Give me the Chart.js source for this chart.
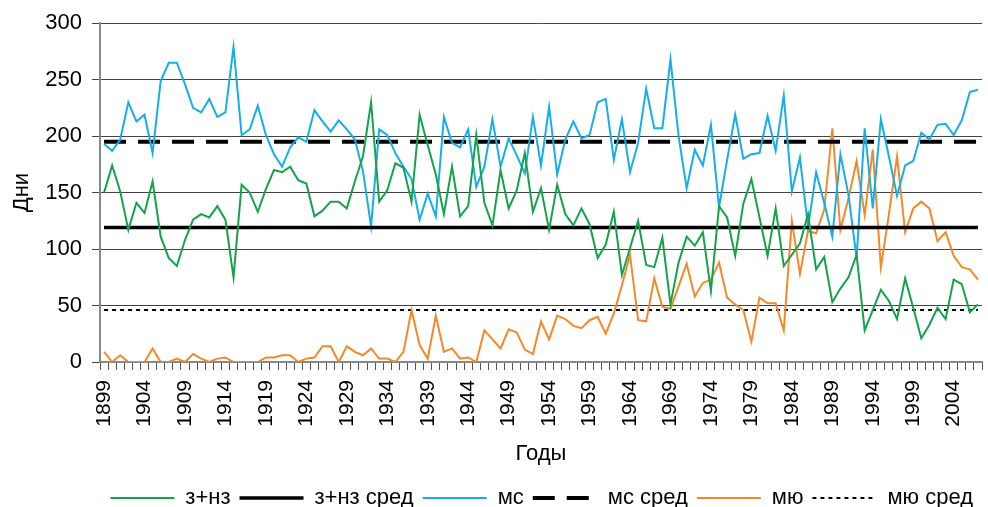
<!DOCTYPE html>
<html>
<head>
<meta charset="utf-8">
<script src="https://cdn.jsdelivr.net/npm/chart.js@4.4.1/dist/chart.umd.min.js"></script>
<style>
  html, body { margin: 0; padding: 0; background: #fff; }
  #wrap { width: 988px; height: 507px; }
</style>
</head>
<body>
<div id="wrap"><canvas id="chart"></canvas></div>
<script>
// годы 1899..2007
const years = [];
for (let y = 1899; y <= 2007; y++) years.push(String(y));

// з+нз
const zNz = [
  150, 174, 151, 117, 141, 132, 160, 111, 92, 85,
  108, 126, 131, 128, 138, 126, 75, 157, 150, 133,
  153, 170, 168, 173, 161, 158, 129, 134, 142, 142,
  136, 160, 182, 230, 142, 152, 176, 172, 142, 219,
  192, 166, 131, 173, 129, 138, 201, 141, 121, 170,
  136, 152, 185, 133, 154, 117, 157, 131, 121, 136,
  122, 92, 104, 133, 77, 101, 125, 86, 84, 110,
  51, 88, 111, 103, 115, 63, 138, 128, 94, 140,
  162, 128, 94, 136, 85, 95, 105, 131, 82, 93,
  53, 65, 75, 95, 28, 46, 64, 54, 38, 74,
  48, 21, 33, 48, 38, 73, 69, 44, 51
];

// мс
const ms = [
  193, 187, 197, 230, 213, 219, 185, 249, 265, 265,
  246, 225, 221, 233, 217, 221, 279, 201, 206, 227,
  201, 184, 173, 190, 199, 195, 223, 213, 204, 214,
  206, 197, 169, 120, 206, 201, 185, 173, 162, 126,
  149, 129, 217, 194, 190, 206, 155, 173, 215, 173,
  198, 183, 167, 217, 174, 226, 166, 197, 213, 198,
  201, 230, 233, 179, 215, 168, 194, 242, 207, 207,
  268, 200, 154, 188, 174, 210, 137, 179, 219, 180,
  184, 185, 218, 187, 236, 151, 181, 119, 168, 141,
  111, 184, 148, 92, 207, 136, 215, 182, 147, 174,
  178, 203, 197, 210, 211, 201, 214, 239, 241
];

// мю
const mu = [
  9, 0, 6, 0, 0, 0, 12, 0, 0, 3,
  0, 7, 3, 0, 3, 4, 0, 0, 0, 0,
  4, 4, 6, 6, 0, 3, 4, 14, 14, 0,
  14, 9, 6, 12, 3, 3, 0, 9, 46, 15,
  3, 41, 9, 12, 3, 4, 0, 28, 20, 12,
  29, 26, 11, 7, 36, 20, 41, 38, 32, 30,
  37, 40, 25, 43, 68, 95, 37, 36, 74, 49,
  47, 67, 87, 58, 70, 73, 88, 57, 51, 46,
  18, 57, 52, 52, 28, 125, 78, 116, 114, 135,
  207, 117, 145, 178, 130, 188, 84, 131, 182, 115,
  136, 142, 136, 107, 115, 94, 84, 82, 73
];

// средние значения
const zNzAvg = 119;
const msAvg = 195;
const muAvg = 46;

const green = "#14a24b";
const blue = "#16aeea";
const orange = "#f5892a";
const fontFam = "'Liberation Sans', Arial, sans-serif";

function avgLine(v) {
  return years.map(() => v);
}

new Chart(document.getElementById("chart"), {
  type: "line",
  data: {
    labels: years,
    datasets: [
      { label: "з+нз", data: zNz, borderColor: green, backgroundColor: green, borderWidth: 2 },
      { label: "з+нз сред", data: avgLine(zNzAvg), borderColor: "#000", backgroundColor: "#000", borderWidth: 3.5 },
      { label: "мс", data: ms, borderColor: blue, backgroundColor: blue, borderWidth: 2 },
      { label: "мс сред", data: avgLine(msAvg), borderColor: "#000", backgroundColor: "#000", borderWidth: 4, borderDash: [22, 12] },
      { label: "мю", data: mu, borderColor: orange, backgroundColor: orange, borderWidth: 2 },
      { label: "мю сред", data: avgLine(muAvg), borderColor: "#000", backgroundColor: "#000", borderWidth: 2, borderDash: [4, 4] },
    ],
  },
  options: {
    responsive: true,
    maintainAspectRatio: false,
    animation: false,
    devicePixelRatio: 1,
    layout: { padding: { top: 22, right: 6, left: 0, bottom: -12 } },
    elements: {
      point: { radius: 0, hoverRadius: 0, pointStyle: "line" },
      line: { tension: 0, fill: false },
    },
    plugins: {
      tooltip: { enabled: false },
      legend: {
        position: "bottom",
        align: "end",
        labels: {
          usePointStyle: true,
          pointStyleWidth: 64,
          color: "#000",
          padding: 9,
          font: { size: 22, family: fontFam },
          // пунктир и толщина линий в легенде как у самих наборов
          generateLabels: (chart) => {
            const items = Chart.defaults.plugins.legend.labels.generateLabels(chart);
            items.forEach((it) => {
              const ds = chart.data.datasets[it.datasetIndex];
              it.lineDash = ds.borderDash || [];
              it.lineWidth = ds.borderWidth;
            });
            return items;
          },
        },
      },
    },
    scales: {
      x: {
        offset: true,
        ticks: {
          autoSkip: false,
          maxRotation: 90,
          minRotation: 90,
          color: "#000",
          padding: 10,
          font: { size: 21, family: fontFam },
          callback: (v, i) => (i % 5 === 0 ? years[i] : ""),
        },
        grid: { drawOnChartArea: false, tickLength: 8, color: "#555", offset: true },
        border: { color: "#888", width: 2 },
        title: {
          display: true,
          text: "Годы",
          color: "#000",
          padding: { top: 10, bottom: 11 },
          font: { size: 22, family: fontFam },
        },
        afterFit: (s) => {
          s.height = 116;
          s.paddingLeft = 0;
          s.paddingRight = 0;
        },
      },
      y: {
        min: 0,
        max: 300,
        ticks: {
          stepSize: 50,
          color: "#000",
          padding: 10,
          font: { size: 22, family: fontFam },
        },
        grid: { color: "#444", tickLength: 8 },
        border: { color: "#888", width: 2 },
        title: {
          display: true,
          text: "Дни",
          color: "#000",
          padding: { top: 9, bottom: 0 },
          font: { size: 22, family: fontFam },
        },
        afterFit: (s) => { s.width = 100; },
      },
    },
  },
});
</script>
</body>
</html>
